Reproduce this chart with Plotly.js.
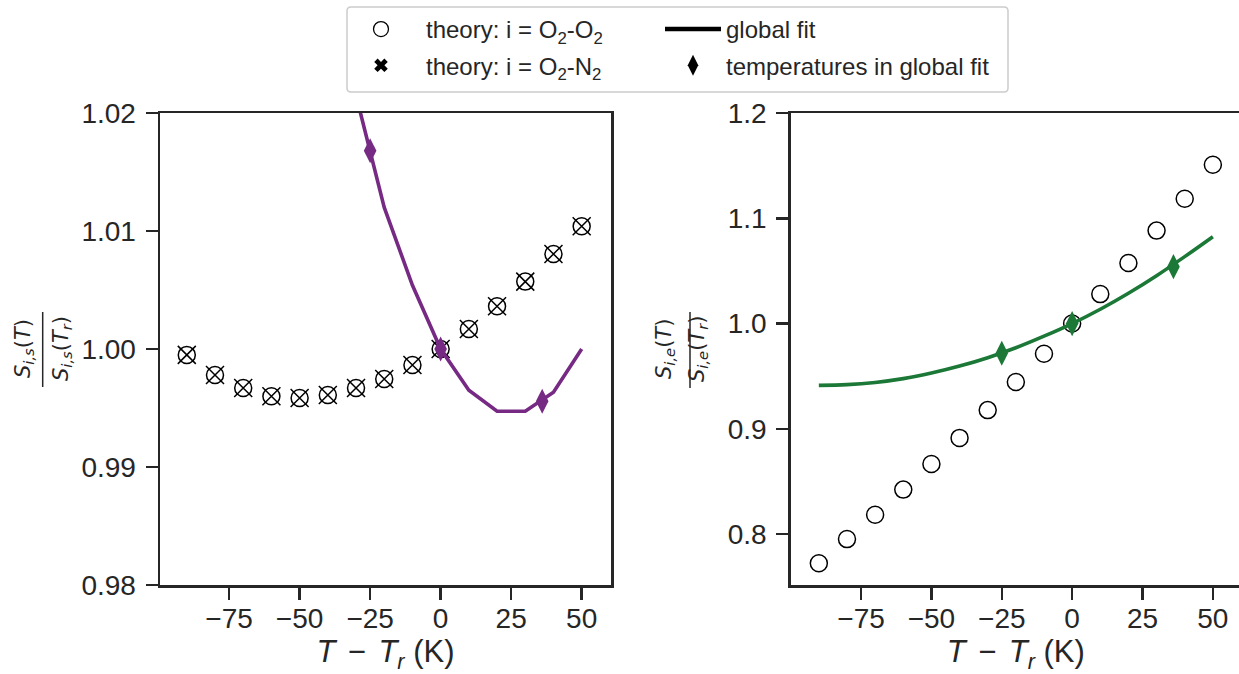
<!DOCTYPE html>
<html>
<head>
<meta charset="utf-8">
<script src="https://cdn.plot.ly/plotly-3.0.1.min.js"></script>
<style>
html,body{margin:0;padding:0;overflow:hidden;background:#fff;}
#chart{width:1242px;height:674px;}
</style>
</head>
<body>
<div id="chart"></div>
<script>
// ---- data ----
const temps = [-90, -80, -70, -60, -50, -40, -30, -20, -10, 0, 10, 20, 30, 40, 50];
const leftO2O2 = [0.9995, 0.9978, 0.9967, 0.9960, 0.99585, 0.9961, 0.9967, 0.99746, 0.99864, 1.0000, 1.00169, 1.00362, 1.00571, 1.00805, 1.0104];
const leftO2N2 = [0.9995, 0.9978, 0.9967, 0.9960, 0.99585, 0.9961, 0.9967, 0.99746, 0.99864, 1.0000, 1.00169, 1.00362, 1.00571, 1.00805, 1.0104];
const leftFitT = [-30, -20, -10, 0, 10, 20, 30, 40, 50];
const leftFit = [1.0215, 1.0120, 1.0054, 1.0000, 0.9965, 0.99472, 0.99472, 0.99633, 1.0000];
const rightO2O2 = [0.7724, 0.7953, 0.8185, 0.8423, 0.8667, 0.8914, 0.9178, 0.9445, 0.9714, 1.0000, 1.0280, 1.0575, 1.0883, 1.1185, 1.1509];
const rightFitT = [-90, -80, -70, -60, -50, -40, -30, -20, -10, 0, 10, 20, 30, 40, 50];
const rightFit = [0.9413, 0.9420, 0.9441, 0.9477, 0.9530, 0.9596, 0.9676, 0.9770, 0.9880, 1.0000, 1.0136, 1.0288, 1.0455, 1.0636, 1.0825];
const fitTemps = [-25, 0, 36];
const leftFitPts = [1.0168, 1.0000, 0.99557];
const rightFitPts = [0.9718, 1.0000, 1.0540];
const xTicks = [-75, -50, -25, 0, 25, 50];
const xTickText = ['\u221275', '\u221250', '\u221225', '0', '25', '50'];
const leftYTicks = [0.98, 0.99, 1.00, 1.01, 1.02];
const leftYText = ['0.98', '0.99', '1.00', '1.01', '1.02'];
const rightYTicks = [0.8, 0.9, 1.0, 1.1, 1.2];
const rightYText = ['0.8', '0.9', '1.0', '1.1', '1.2'];
const legendLabels = ['theory: i = O<sub>2</sub>-O<sub>2</sub>', 'theory: i = O<sub>2</sub>-N<sub>2</sub>', 'global fit', 'temperatures in global fit'];

// ---- styling ----
const W = 1242, H = 674;
const INK = '#262626';
const PURPLE = '#762a83';
const GREEN = '#1b7837';
const FONT = 'Liberation Sans, Arial, sans-serif';
const px = v => v / W;
const py = v => 1 - v / H;

const traces = [
  // left panel
  {x: temps, y: leftO2O2, xaxis: 'x', yaxis: 'y', mode: 'markers', showlegend: false,
   marker: {symbol: 'circle-open', size: 17, color: 'black', line: {width: 1.5, color: 'black'}}},
  {x: temps, y: leftO2N2, xaxis: 'x', yaxis: 'y', mode: 'markers', showlegend: false,
   marker: {symbol: 'x-thin-open', size: 18, color: 'black', line: {width: 1.5, color: 'black'}}},
  {x: leftFitT, y: leftFit, xaxis: 'x', yaxis: 'y', mode: 'lines', showlegend: false,
   line: {color: PURPLE, width: 3.6}},
  {x: fitTemps, y: leftFitPts, xaxis: 'x', yaxis: 'y', mode: 'markers', showlegend: false, cliponaxis: false,
   marker: {symbol: 'diamond-tall', size: 18, color: PURPLE}},
  // right panel
  {x: temps, y: rightO2O2, xaxis: 'x2', yaxis: 'y2', mode: 'markers', showlegend: false,
   marker: {symbol: 'circle-open', size: 17, color: 'black', line: {width: 1.5, color: 'black'}}},
  {x: rightFitT, y: rightFit, xaxis: 'x2', yaxis: 'y2', mode: 'lines', showlegend: false,
   line: {color: GREEN, width: 3.6, shape: 'spline'}},
  {x: fitTemps, y: rightFitPts, xaxis: 'x2', yaxis: 'y2', mode: 'markers', showlegend: false,
   marker: {symbol: 'diamond-tall', size: 18, color: GREEN}},
  // legend entries
  {x: [null], y: [null], xaxis: 'x', yaxis: 'y', mode: 'markers', name: legendLabels[0], legend: 'legend', legendgroup: 'a',
   marker: {symbol: 'circle-open', size: 15, color: 'black', line: {width: 1.3, color: 'black'}}},
  {x: [null], y: [null], xaxis: 'x', yaxis: 'y', mode: 'markers', name: legendLabels[1], legend: 'legend', legendgroup: 'b',
   marker: {symbol: 'x', size: 12, color: 'black', line: {width: 0}}},
  {x: [null], y: [null], xaxis: 'x', yaxis: 'y', mode: 'lines', name: legendLabels[2], legend: 'legend2', legendgroup: 'c',
   line: {color: 'black', width: 4.5}},
  {x: [null], y: [null], xaxis: 'x', yaxis: 'y', mode: 'markers', name: legendLabels[3], legend: 'legend2', legendgroup: 'd',
   marker: {symbol: 'diamond-tall', size: 15, color: 'black'}}
];

const axisCommon = {
  showgrid: false, zeroline: false, showline: true, mirror: true,
  linecolor: INK, linewidth: 2.5, ticks: 'outside', ticklen: 12, tickwidth: 2.5, tickcolor: INK,
  tickfont: {family: FONT, size: 28, color: INK}, tickmode: 'array'
};
const xTitle = {text: '<i>T</i>\u2009\u2009\u2212\u2009\u2009<i>T<sub>r</sub></i> (K)', font: {family: FONT, size: 31, color: INK}, standoff: 0};

const layout = {
  width: W, height: H,
  margin: {l: 0, r: 0, t: 0, b: 0},
  paper_bgcolor: 'white', plot_bgcolor: 'white',
  font: {family: FONT, color: INK},
  xaxis: Object.assign({}, axisCommon, {domain: [px(160), px(611)], range: [-99.5, 60.4],
    tickvals: xTicks, ticktext: xTickText, title: xTitle, anchor: 'y', ticklabelstandoff: -5}),
  yaxis: Object.assign({}, axisCommon, {domain: [py(585), py(113)], range: [0.98, 1.02],
    tickvals: leftYTicks, ticktext: leftYText, anchor: 'x', ticklabelstandoff: 4}),
  xaxis2: Object.assign({}, axisCommon, {domain: [px(790.7), px(1241)], range: [-100, 60],
    tickvals: xTicks, ticktext: xTickText, title: xTitle, anchor: 'y2', ticklabelstandoff: -5}),
  yaxis2: Object.assign({}, axisCommon, {domain: [py(585), py(113)], range: [0.7517, 1.2],
    tickvals: rightYTicks, ticktext: rightYText, anchor: 'x2', ticklabelstandoff: 4}),
  legend: {x: px(336), y: py(7), xanchor: 'left', yanchor: 'top', bgcolor: 'rgba(0,0,0,0)',
    font: {family: FONT, size: 24, color: INK}, itemsizing: 'trace', itemwidth: 80, tracegroupgap: 2},
  legend2: {x: px(660), y: py(7), xanchor: 'left', yanchor: 'top', bgcolor: 'rgba(0,0,0,0)',
    font: {family: FONT, size: 24, color: INK}, itemsizing: 'trace', itemwidth: 56, tracegroupgap: 2},
  shapes: [
    {type: 'path', xref: 'paper', yref: 'paper',
     path: 'M' + px(351) + ',' + py(7) + ' L' + px(1004) + ',' + py(7) +
           ' Q' + px(1008) + ',' + py(7) + ' ' + px(1008) + ',' + py(11) +
           ' L' + px(1008) + ',' + py(88) +
           ' Q' + px(1008) + ',' + py(92) + ' ' + px(1004) + ',' + py(92) +
           ' L' + px(351) + ',' + py(92) +
           ' Q' + px(347) + ',' + py(92) + ' ' + px(347) + ',' + py(88) +
           ' L' + px(347) + ',' + py(11) +
           ' Q' + px(347) + ',' + py(7) + ' ' + px(351) + ',' + py(7) + ' Z',
     line: {color: '#cccccc', width: 1.5}, fillcolor: 'rgba(0,0,0,0)'},
    {type: 'line', xref: 'paper', yref: 'paper', x0: px(42.7), x1: px(42.7), y0: py(387), y1: py(312),
     line: {color: INK, width: 1.5}},
    {type: 'line', xref: 'paper', yref: 'paper', x0: px(690), x1: px(690), y0: py(388), y1: py(312),
     line: {color: INK, width: 1.5}}
  ],
  annotations: [
    {xref: 'paper', yref: 'paper', x: px(9), y: py(349), textangle: -90, showarrow: false,
     text: '<i>S<sub>i,s</sub></i>(<i>T</i>)', font: {family: 'DejaVu Sans', size: 21, color: INK}},
    {xref: 'paper', yref: 'paper', x: px(47), y: py(349), textangle: -90, showarrow: false,
     text: '<i>S<sub>i,s</sub></i>(<i>T<sub>r</sub></i>)', font: {family: 'DejaVu Sans', size: 21, color: INK}},
    {xref: 'paper', yref: 'paper', x: px(665), y: py(349), textangle: -90, showarrow: false,
     text: '<i>S<sub>i,e</sub></i>(<i>T</i>)', font: {family: 'DejaVu Sans', size: 21, color: INK}},
    {xref: 'paper', yref: 'paper', x: px(698), y: py(349), textangle: -90, showarrow: false,
     text: '<i>S<sub>i,e</sub></i>(<i>T<sub>r</sub></i>)', font: {family: 'DejaVu Sans', size: 21, color: INK}}
  ]
};

Plotly.newPlot('chart', traces, layout, {displayModeBar: false, staticPlot: true});
</script>
</body>
</html>
